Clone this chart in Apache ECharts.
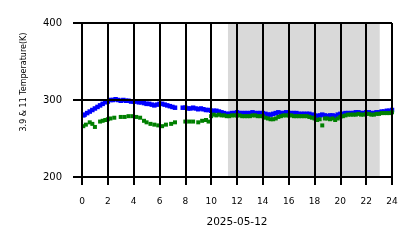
<!DOCTYPE html>
<html>
<head>
<meta charset="utf-8">
<script src="https://cdn.jsdelivr.net/npm/echarts@6/dist/echarts.min.js"></script>
<style>html,body{margin:0;padding:0;background:#fff}#c{width:418px;height:248px}</style>
</head>
<body>
<div id="c"></div>
<script>
// hours of day (2025-05-12) and temperatures (K)
const blueData = [[0.1,280],[0.2,281],[0.4,283],[0.6,285],[0.8,287],[1.0,289],[1.2,291],[1.4,293],[1.6,295],[1.8,297],[2.0,298],[2.2,300],[2.4,300],[2.6,301],[2.8,300],[3.0,299],[3.2,300],[3.4,299],[3.6,299],[3.8,298],[4.0,298],[4.2,298],[4.4,297],[4.6,297],[4.8,296],[5.0,295],[5.2,295],[5.4,294],[5.6,293],[5.8,294],[6.0,295],[6.2,295],[6.4,294],[6.6,293],[6.8,292],[7.0,291],[7.2,290],[7.8,290],[8.0,290],[8.2,289],[8.4,289],[8.6,290],[8.8,289],[9.0,288],[9.2,289],[9.4,288],[9.6,287],[9.8,287],[10.0,286],[10.2,286],[10.4,286],[10.6,285],[10.8,284],[11.0,283],[11.2,282],[11.4,282],[11.6,283],[11.8,283],[12.0,284],[12.2,283],[12.4,283],[12.6,283],[12.8,283],[13.0,283],[13.2,284],[13.4,283],[13.6,283],[13.8,283],[14.0,283],[14.2,282],[14.4,281],[14.6,281],[14.8,282],[15.0,283],[15.2,284],[15.4,283],[15.6,283],[15.8,284],[16.0,283],[16.2,283],[16.4,283],[16.6,283],[16.8,282],[17.0,282],[17.2,282],[17.4,282],[17.6,282],[17.8,281],[18.0,280],[18.2,279],[18.4,280],[18.6,281],[18.8,280],[19.0,279],[19.2,280],[19.4,280],[19.6,279],[19.8,281],[20.0,282],[20.2,282],[20.4,283],[20.6,283],[20.8,283],[21.0,283],[21.2,284],[21.4,284],[21.6,283],[21.8,283],[22.0,284],[22.2,284],[22.4,283],[22.6,283],[22.8,284],[23.0,284],[23.2,285],[23.4,285],[23.6,286],[23.8,286],[24.0,287]];
const greenData = [[0.1,266],[0.3,268],[0.6,271],[0.8,269],[1.0,265],[1.4,272],[1.6,273],[1.8,274],[2.0,275],[2.2,276],[2.5,277],[3.0,278],[3.3,278],[3.6,279],[3.9,279],[4.2,278],[4.5,277],[4.8,273],[5.0,271],[5.3,269],[5.6,268],[5.9,267],[6.2,266],[6.5,268],[6.9,269],[7.2,271],[8.0,272],[8.3,272],[8.6,272],[9.0,271],[9.3,273],[9.6,274],[9.8,272],[10.0,279],[10.2,281],[10.4,280],[10.6,281],[10.8,280],[11.0,280],[11.2,279],[11.4,279],[11.6,280],[11.8,280],[12.0,280],[12.2,280],[12.4,279],[12.6,279],[12.8,279],[13.0,279],[13.2,280],[13.4,280],[13.6,279],[13.8,279],[14.0,279],[14.2,277],[14.4,276],[14.6,275],[14.8,275],[15.0,276],[15.2,278],[15.4,279],[15.6,280],[15.8,280],[16.0,280],[16.2,280],[16.4,279],[16.6,279],[16.8,279],[17.0,279],[17.2,279],[17.4,279],[17.6,278],[17.8,277],[18.0,276],[18.2,274],[18.4,275],[18.6,267],[18.8,276],[19.0,276],[19.2,275],[19.4,276],[19.6,274],[19.8,276],[20.0,278],[20.2,279],[20.4,280],[20.6,281],[20.8,281],[21.0,281],[21.2,281],[21.4,282],[21.6,281],[21.8,281],[22.0,282],[22.2,282],[22.4,281],[22.6,281],[22.8,282],[23.0,282],[23.2,283],[23.4,283],[23.6,283],[23.8,283],[24.0,284]];
const shadeRange = [11.3, 23.05];
const xTicks = [0, 24, 2];
const yTicks = [200, 400, 100];

const chart = echarts.init(document.getElementById('c'));
const font = 'DejaVu Sans';
chart.setOption({
  animation: false,
  grid: {left: 82, right: 26, top: 23, bottom: 71},
  xAxis: {
    type: 'value', min: xTicks[0], max: xTicks[1], interval: xTicks[2], z: 10,
    axisLine: {show: true, lineStyle: {color: '#000', width: 2}},
    axisTick: {show: true, inside: false, length: 8, lineStyle: {color: '#000', width: 2}},
    axisLabel: {fontFamily: font, fontSize: 9, color: '#000', margin: 20},
    splitLine: {show: true, lineStyle: {color: '#000', width: 2}},
    name: '2025-05-12', nameLocation: 'middle', nameGap: 40,
    nameTextStyle: {fontFamily: font, fontSize: 10.5, color: '#000'}
  },
  yAxis: {
    type: 'value', min: yTicks[0], max: yTicks[1], interval: yTicks[2], z: 10,
    axisLine: {show: true, lineStyle: {color: '#000', width: 2}},
    axisTick: {show: true, inside: false, length: 9, lineStyle: {color: '#000', width: 2}},
    axisLabel: {fontFamily: font, fontSize: 10, color: '#000', margin: 20},
    splitLine: {show: true, lineStyle: {color: '#000', width: 2}},
    name: '3.9 & 11 Temperature(K)', nameLocation: 'middle', nameGap: 54,
    nameTextStyle: {fontFamily: font, fontSize: 8, color: '#000', padding: [0, 0, 0, 36]}
  },
  series: [
    {
      type: 'scatter', data: blueData, symbol: 'rect', symbolSize: 4.5,
      itemStyle: {color: '#0000ff', opacity: 1}, z: 3,
      markArea: {silent: true, itemStyle: {color: '#d9d9d9', opacity: 1},
        data: [[{xAxis: shadeRange[0]}, {xAxis: shadeRange[1]}]]}
    },
    {
      type: 'scatter', data: greenData, symbol: 'rect', symbolSize: 4,
      itemStyle: {color: '#008000', opacity: 1}, z: 4
    }
  ]
});
</script>
</body>
</html>
